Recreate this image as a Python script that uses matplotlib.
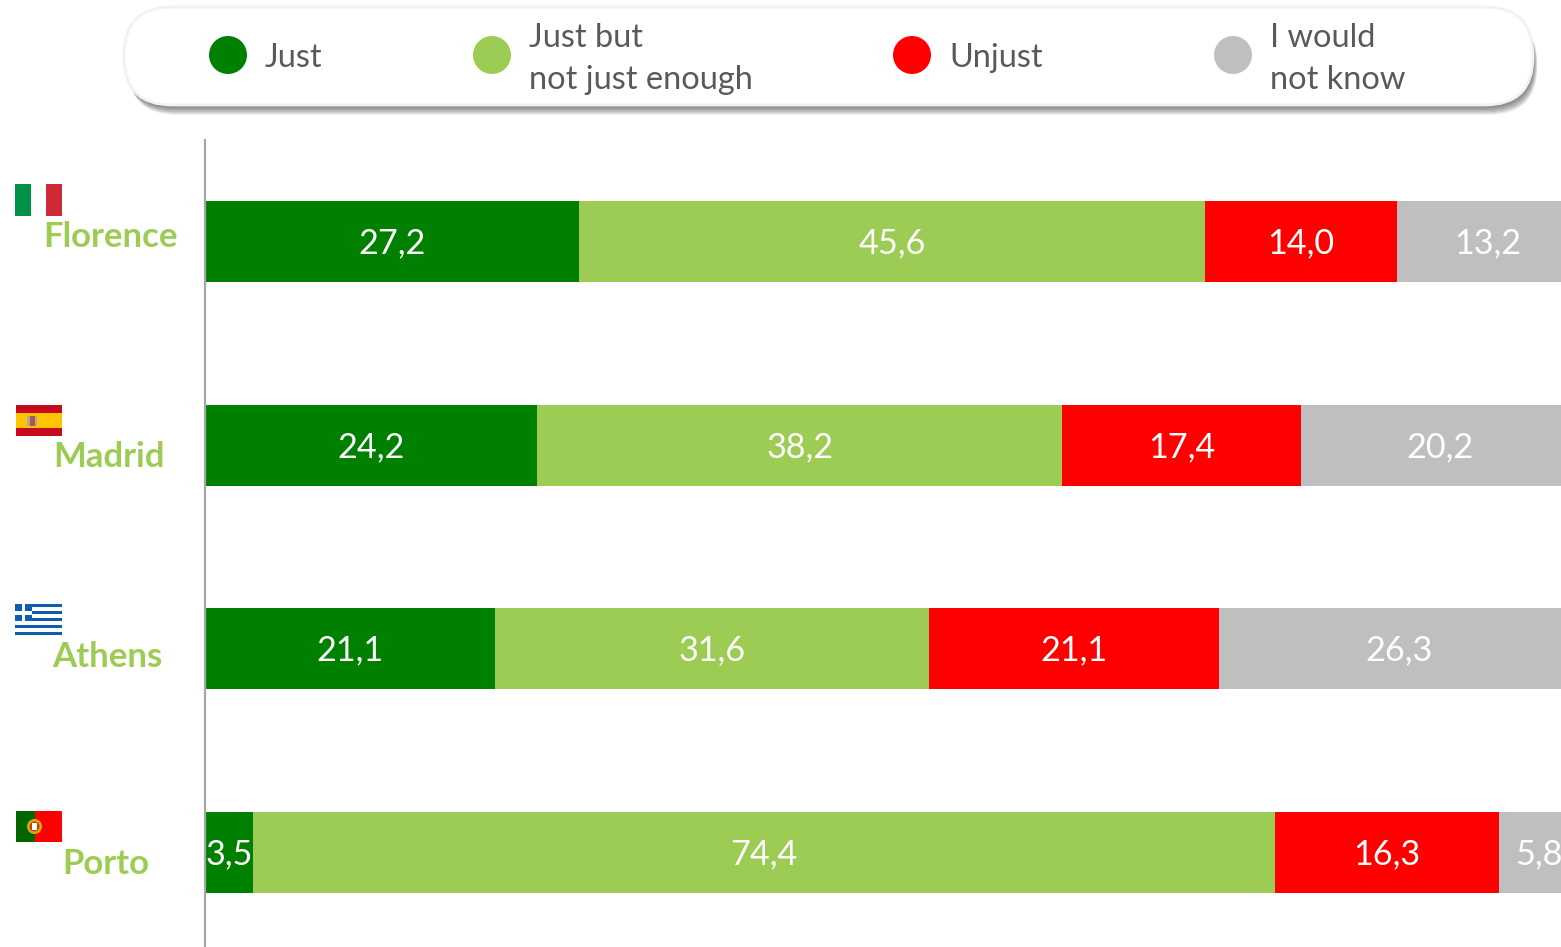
import matplotlib
matplotlib.use("Agg")
import matplotlib.pyplot as plt
from matplotlib.patches import FancyBboxPatch, Rectangle, Circle

plt.rcParams['font.family'] = ['Lato', 'DejaVu Sans']

# Data
cities = ["Florence", "Madrid", "Athens", "Porto"]
categories = ["Just", "Just but\nnot just enough", "Unjust", "I would\nnot know"]
just = [27.2, 24.2, 21.1, 3.5]
just_but = [45.6, 38.2, 31.6, 74.4]
unjust = [14.0, 17.4, 21.1, 16.3]
no_idea = [13.2, 20.2, 26.3, 5.8]
series = [just, just_but, unjust, no_idea]

colors = ["#008000", "#9ccc54", "#ff0000", "#bfbfbf"]
text_grey = "#595959"

W, H = 1561, 947
fig = plt.figure(figsize=(W / 100, H / 100), dpi=100, facecolor="white")

# Overlay in pixel coordinates for the legend, flags and city names
over = fig.add_axes([0, 0, 1, 1])
over.set_xlim(0, W)
over.set_ylim(H, 0)
over.axis("off")

# Bars: one unit is 13.73 px, the 100% end runs past the right edge
ax = fig.add_axes([205 / W, 0, (W - 205) / W, (H - 140) / H])
ax.set_xlim(0, (W - 205) / 13.735)
ax.set_ylim(3 + (947 - 852) / 203.5, -(241.5 - 140) / 203.5)
ax.patch.set_alpha(0)
for s in ["top", "right", "bottom"]:
    ax.spines[s].set_visible(False)
ax.spines["left"].set_color("#a6a6a6")
ax.spines["left"].set_linewidth(1.6)
ax.set_xticks([])
ax.set_yticks([])

left = [0, 0, 0, 0]
for vals, c in zip(series, colors):
    ax.barh(range(len(cities)), vals, left=left, height=81 / 203.5, color=c, linewidth=0)
    for i, v in enumerate(vals):
        ax.annotate(f"{v:.1f}".replace(".", ","), (left[i] + v / 2, i), xytext=(0, -1.5),
                    textcoords="offset points", color="white", fontsize=24.6,
                    ha="center", va="center", annotation_clip=False)
    left = [a + b for a, b in zip(left, vals)]

# Legend pill with a soft shadow
box_x, box_y, box_w, box_h = 124, 7, 1409, 98
for k in range(12):
    over.add_patch(FancyBboxPatch((box_x + 0.5 + k * 0.35, box_y + 1 + k * 0.8), box_w, box_h,
                                  boxstyle="round,pad=0,rounding_size=48", fc="#303030",
                                  ec="none", alpha=0.07))
over.add_patch(FancyBboxPatch((box_x, box_y), box_w, box_h, boxstyle="round,pad=0,rounding_size=48",
                              fc="white", ec="#f2f2f2", lw=2))

dot_x = [228, 492, 912, 1233]
label_y = [58, 59, 58, 59]
for x, y, c, label in zip(dot_x, label_y, colors, categories):
    over.add_patch(Circle((x, 55), 19, fc=c, ec="none"))
    over.text(x + 37, y, label, color=text_grey, fontsize=23.4, ha="left", va="center", linespacing=1.47)

# City names
name_x = [110.5, 109, 107, 105.5]
name_y = [237, 457, 657, 864]
for name, x, y in zip(cities, name_x, name_y):
    over.text(x, y, name, color="#9ccc54", fontsize=25, fontweight="bold", ha="center", va="center")

# Flags
def rect(x0, y0, x1, y1, c):
    over.add_patch(Rectangle((x0, y0), x1 - x0, y1 - y0, fc=c, ec="none"))

# Italy
rect(15, 184, 31, 216, "#009246")
rect(46, 184, 62, 216, "#ce2b37")
# Spain
rect(16, 405, 62, 436, "#c60b1e")
rect(16, 413, 62, 428, "#ffc400")
rect(27, 416, 30, 426, "#a9a9a9")
rect(30, 416, 35, 426, "#b5573a")
rect(35, 416, 37, 426, "#a9a9a9")
# Greece
rect(15, 604, 62, 635, "#0d5eaf")
for i in range(1, 8, 2):
    rect(15 + (17 if i < 5 else 0), 604 + i * 31 / 9, 62, 604 + (i + 1) * 31 / 9, "white")
rect(15, 610.5, 32, 614.5, "white")
rect(22, 604, 25.5, 621, "white")
# Portugal
rect(16, 811, 35, 842, "#006600")
rect(35, 811, 62, 842, "#ff0000")
over.add_patch(Circle((34.5, 826.5), 7.5, fc="#c8b400", ec="none"))
over.add_patch(Circle((34.5, 826.5), 5, fc="#d8312a", ec="none"))
over.add_patch(Rectangle((32, 823), 5, 7, fc="white", ec="none"))

fig.savefig("out.png", dpi=100)
